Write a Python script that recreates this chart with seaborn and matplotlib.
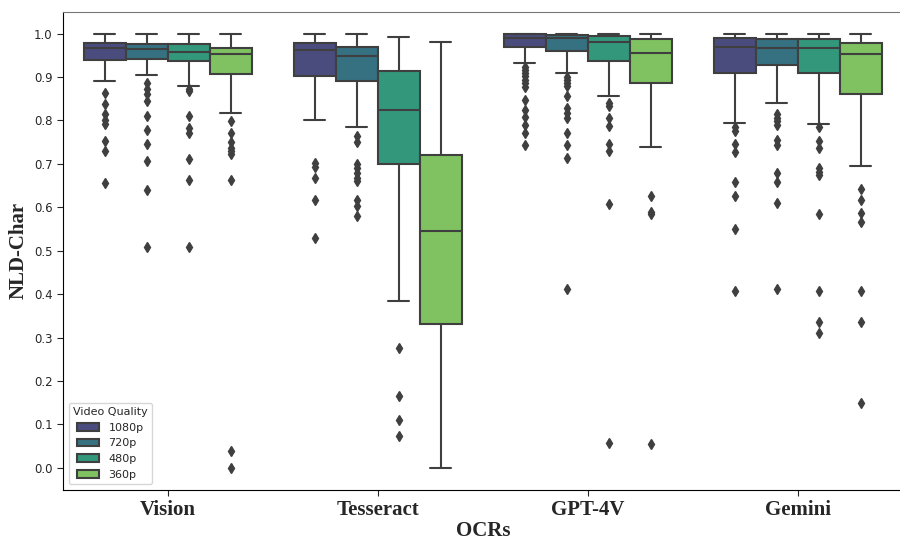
import numpy as np
import pandas as pd
import matplotlib
matplotlib.use("Agg")
import matplotlib.pyplot as plt
import seaborn as sns

# OCR engines and video qualities
ocrs = ["Vision", "Tesseract", "GPT-4V", "Gemini"]
qualities = ["1080p", "720p", "480p", "360p"]

# box statistics, [ocr][quality]
whisker_hi = [
    [1.000, 1.000, 0.999, 0.998],
    [1.000, 1.000, 0.993, 0.980],
    [1.000, 1.000, 1.000, 1.000],
    [1.000, 1.000, 1.000, 1.000],
]
q3 = [
    [0.979, 0.977, 0.975, 0.967],
    [0.978, 0.970, 0.913, 0.720],
    [0.998, 0.997, 0.995, 0.987],
    [0.989, 0.988, 0.988, 0.978],
]
median = [
    [0.966, 0.965, 0.958, 0.952],
    [0.962, 0.948, 0.825, 0.546],
    [0.989, 0.989, 0.981, 0.956],
    [0.969, 0.967, 0.967, 0.952],
]
q1 = [
    [0.939, 0.942, 0.936, 0.906],
    [0.903, 0.890, 0.699, 0.331],
    [0.969, 0.961, 0.938, 0.887],
    [0.910, 0.927, 0.909, 0.861],
]
whisker_lo = [
    [0.890, 0.905, 0.880, 0.817],
    [0.802, 0.784, 0.385, 0.000],
    [0.933, 0.910, 0.857, 0.740],
    [0.795, 0.840, 0.793, 0.695],
]

# outliers
outliers_vision = [
    [0.864, 0.837, 0.814, 0.802, 0.793, 0.752, 0.729, 0.657],
    [0.886, 0.873, 0.860, 0.844, 0.811, 0.779, 0.745, 0.706, 0.641, 0.509],
    [0.873, 0.867, 0.810, 0.783, 0.772, 0.712, 0.662, 0.509],
    [0.798, 0.772, 0.750, 0.737, 0.729, 0.722, 0.662, 0.040, 0.000],
]
outliers_tesseract = [
    [0.701, 0.694, 0.667, 0.616, 0.529],
    [0.765, 0.750, 0.700, 0.690, 0.680, 0.668, 0.660, 0.617, 0.602, 0.580],
    [0.276, 0.166, 0.110, 0.073],
    [],
]
outliers_gpt4v = [
    [0.923, 0.917, 0.909, 0.902, 0.894, 0.886, 0.877, 0.848, 0.825, 0.808,
     0.789, 0.772, 0.744],
    [0.900, 0.894, 0.886, 0.879, 0.856, 0.829, 0.818, 0.806, 0.772, 0.744,
     0.714, 0.411],
    [0.841, 0.833, 0.806, 0.787, 0.745, 0.729, 0.607, 0.057],
    [0.625, 0.590, 0.584, 0.055],
]
outliers_gemini = [
    [0.786, 0.776, 0.745, 0.727, 0.658, 0.626, 0.549, 0.408],
    [0.814, 0.806, 0.798, 0.789, 0.756, 0.743, 0.678, 0.658, 0.611, 0.413],
    [0.785, 0.752, 0.736, 0.691, 0.681, 0.674, 0.585, 0.408, 0.337, 0.310],
    [0.643, 0.618, 0.586, 0.566, 0.408, 0.337, 0.149],
]
outliers = [outliers_vision, outliers_tesseract, outliers_gpt4v, outliers_gemini]

# rebuild samples that reproduce each box
rows = []
for i, ocr in enumerate(ocrs):
    for j, q in enumerate(qualities):
        vals = (list(outliers[i][j]) + [whisker_lo[i][j]]
                + [q1[i][j]] * 100 + [median[i][j]] * 100 + [q3[i][j]] * 100
                + [whisker_hi[i][j]])
        for v in vals:
            rows.append((ocr, q, v))
df = pd.DataFrame(rows, columns=["OCRs", "Video Quality", "NLD-Char"])

sns.set_style("white")
plt.rcParams["font.family"] = ["DejaVu Sans"]

fig, ax = plt.subplots(figsize=(9, 5.41), dpi=100)
sns.boxplot(data=df, x="OCRs", y="NLD-Char", hue="Video Quality",
            order=ocrs, hue_order=qualities, palette="viridis",
            saturation=0.75, linecolor="#3f3f3f", linewidth=1.5,
            flierprops=dict(marker="d", markerfacecolor="#3f3f3f",
                            markeredgecolor="#3f3f3f", markersize=5),
            ax=ax)

ax.set_xlabel("OCRs", fontsize=15, fontweight="bold", family="Liberation Serif",
              labelpad=1)
ax.set_ylabel("NLD-Char", fontsize=15, fontweight="bold", family="Liberation Serif")
ax.set_yticks(np.arange(0, 1.01, 0.1))
ax.tick_params(axis="y", labelsize=8.5, length=4, left=True)
ax.tick_params(axis="x", length=4, bottom=True)
for lab in ax.get_xticklabels():
    lab.set_family("Liberation Serif")
    lab.set_fontweight("bold")
    lab.set_fontsize(15)
ax.set_ylim(-0.05, 1.05)

for s in ["left", "bottom"]:
    ax.spines[s].set_color("black")
ax.spines["top"].set_color("#777777")

leg = ax.legend(title="Video Quality", loc="lower left", fontsize=8,
                title_fontsize=8)

fig.subplots_adjust(left=0.07, right=1.003, top=0.978, bottom=0.095)
fig.savefig("out.png", dpi=100)
